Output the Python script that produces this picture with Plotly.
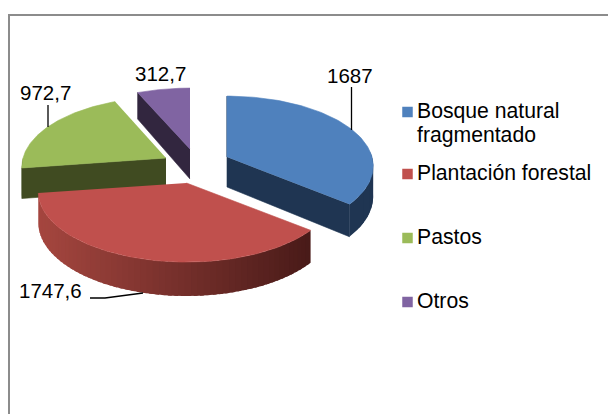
import numpy as np
import plotly.graph_objects as go

categories = ["Bosque natural<br>fragmentado", "Plantación forestal", "Pastos", "Otros"]
values = [1687, 1747.6, 972.7, 312.7]
value_labels = ["1687", "1747,6", "972,7", "312,7"]

W, H = 608, 414
TOP = ["#4F81BD", "#C0504D", "#9BBB59", "#8064A2"]
SIDE = ["#1F3552", "#4A1C1A", "#404B21", "#32263F"]
APEX = [(227, 157), (186.5, 183), (166, 158), (190, 149)]
RXS = [145, 147, 143, 147]
RY, K, DEPTH = 70, 0.13, 30
FONT = "Liberation Sans, Arial, sans-serif"

total = sum(values)
edges = np.concatenate([[0], np.cumsum(values)]) / total * 2 * np.pi


def rim(i, t):
    apex = APEX[i]
    t = np.asarray(t, dtype=float)
    p = 1 - K * np.cos(t)
    return apex[0] + RXS[i] * np.sin(t) * p, apex[1] - RY * np.cos(t) * p


def depth(t):
    return DEPTH * (1 - K * np.cos(t))


def poly(fig, xs, ys, color, lw=0.6):
    fig.add_trace(go.Scatter(x=xs, y=ys, mode="lines", fill="toself", fillcolor=color,
                             line=dict(color=color, width=lw), hoverinfo="skip", showlegend=False))


def mix(a, b, f):
    ca = [int(a[i:i + 2], 16) for i in (1, 3, 5)]
    cb = [int(b[i:i + 2], 16) for i in (1, 3, 5)]
    return "rgb(%d,%d,%d)" % tuple(round(x + (y - x) * f) for x, y in zip(ca, cb))


def side_strips(fig, i_slice, t0, t1, c_left, c_right, n):
    ts = np.linspace(t0, t1, n + 1)
    xs, _ = rim(i_slice, ts)
    xmin, xmax = xs.min(), xs.max()
    step = ts[1] - ts[0]
    for i, (a, b) in enumerate(zip(ts[:-1], ts[1:])):
        tt = np.linspace(a - (step * 0.6 if i else 0), b, 5)
        x, y = rim(i_slice, tt)
        f = (x.mean() - xmin) / max(xmax - xmin, 1)
        col = mix(c_left, c_right, f)
        poly(fig, list(x) + list(x[::-1]), list(y) + list((y + depth(tt))[::-1]), col, lw=0)


fig = go.Figure()


def radial_face(fig, i, t, color):
    apex = APEX[i]
    x, y = rim(i, t)
    d = float(depth(np.array(t)))
    poly(fig, [apex[0], x, x, apex[0]], [apex[1], y, y + d, apex[1] + DEPTH], color)


def top_face(fig, i, t0, t1, color):
    apex = APEX[i]
    tt = np.linspace(t0, t1, 90)
    x, y = rim(i, tt)
    poly(fig, [apex[0]] + list(x), [apex[1]] + list(y), color)


# back to front: Otros, Pastos, Bosque, Plantacion
radial_face(fig, 3, edges[3], SIDE[3])
top_face(fig, 3, edges[3], edges[4], TOP[3])

side_strips(fig, 2, edges[2], 1.5 * np.pi, SIDE[2], SIDE[2], 3)
radial_face(fig, 2, edges[2], SIDE[2])
top_face(fig, 2, edges[2], edges[3], TOP[2])

radial_face(fig, 0, edges[1], SIDE[0])
side_strips(fig, 0, 0.47 * np.pi, edges[1], SIDE[0], SIDE[0], 6)
radial_face(fig, 0, edges[0], SIDE[0])
top_face(fig, 0, edges[0], edges[1], TOP[0])

side_strips(fig, 1, edges[1], edges[2], "#A5463F", "#481A18", 60)
top_face(fig, 1, edges[1], edges[2], TOP[1])

# leader lines
leaders = [([351.5, 351.5], [87, 130]), ([48, 48], [105, 127]), ([90, 105, 143], [298, 298, 293])]
for lx, ly in leaders:
    fig.add_trace(go.Scatter(x=lx, y=ly, mode="lines", line=dict(color="#000000", width=1.3),
                             hoverinfo="skip", showlegend=False))

# data labels
label_pos = [(350, 76), (50, 291), (45, 93), (160, 74)]
annotations = []
for txt, (x, y) in zip(value_labels, label_pos):
    annotations.append(dict(x=x, y=y - 0.5, text=txt, showarrow=False, xanchor="center", yanchor="middle",
                            font=dict(family=FONT, size=20.5, color="#000000")))

# legend
legend_y = [112, 174, 238, 302]
for name, col, y in zip(categories, TOP, legend_y):
    fig.add_trace(go.Scatter(x=[407.5], y=[y], mode="markers",
                             marker=dict(symbol="square", size=10.5, color=col, line=dict(width=0)),
                             hoverinfo="skip", showlegend=False))
    for j, part in enumerate(name.split("<br>")):
        annotations.append(dict(x=414.5, y=y - 1.5 + j * 24, text=part, showarrow=False, xanchor="left",
                                yanchor="middle", align="left",
                                font=dict(family=FONT, size=21.2, color="#000000")))

shapes = [
    dict(type="line", x0=9, x1=9, y0=15, y1=414, line=dict(color="#8C8C8C", width=2)),
    dict(type="line", x0=8, x1=608, y0=15, y1=15, line=dict(color="#8C8C8C", width=2)),
]

fig.update_layout(
    width=W, height=H, margin=dict(l=0, r=0, t=0, b=0),
    paper_bgcolor="#FFFFFF", plot_bgcolor="#FFFFFF",
    xaxis=dict(range=[0, W], visible=False, fixedrange=True),
    yaxis=dict(range=[H, 0], visible=False, fixedrange=True),
    annotations=annotations, shapes=shapes, showlegend=False,
)
fig.write_html("out.html", config=dict(displayModeBar=False),
               post_script="document.body.style.margin='0';document.body.style.overflow='hidden';")
